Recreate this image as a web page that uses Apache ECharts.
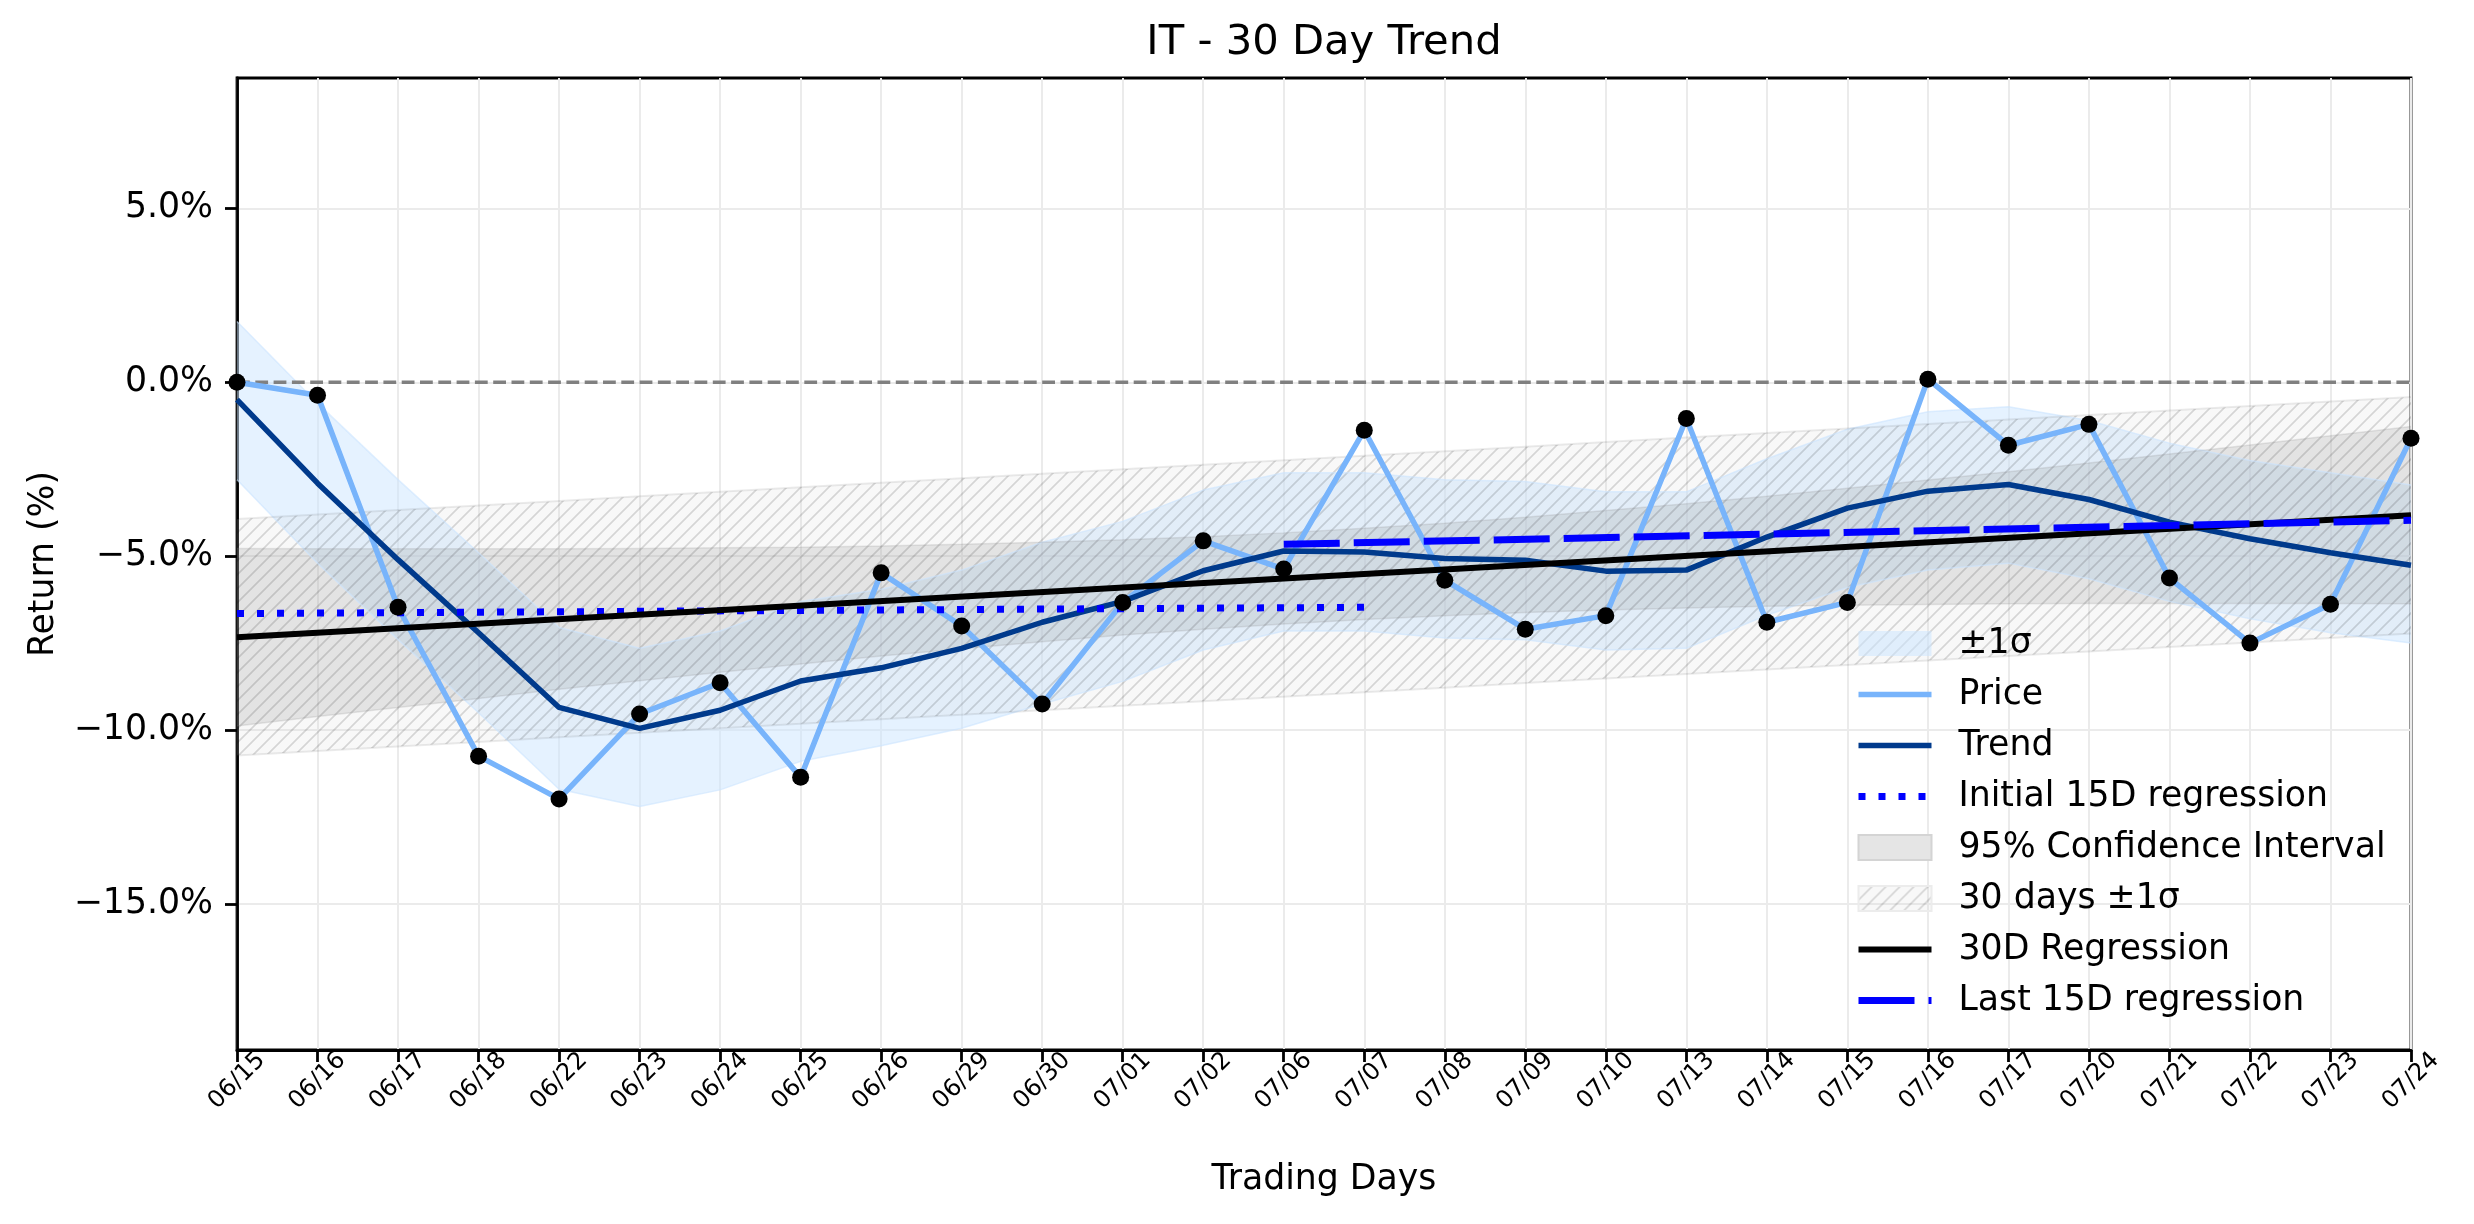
<!DOCTYPE html>
<html>
<head>
<meta charset="utf-8">
<title>IT - 30 Day Trend</title>
<script src="https://cdn.jsdelivr.net/npm/echarts@6/dist/echarts.min.js"></script>
<style>
html, body { margin: 0; padding: 0; background: #fff; }
#chart { width: 2474px; height: 1224px; }
</style>
</head>
<body>
<div id="chart"></div>
<script>
// trading days on the x axis
const days = ['06/15','06/16','06/17','06/18','06/22','06/23','06/24','06/25','06/26','06/29','06/30',
  '07/01','07/02','07/06','07/07','07/08','07/09','07/10','07/13','07/14','07/15','07/16','07/17',
  '07/20','07/21','07/22','07/23','07/24']

// return (%)
const price = [0.00, -0.37, -6.47, -10.75, -11.98, -9.54, -8.64, -11.36, -5.48, -7.01, -9.25, -6.33, -4.56, -5.37,
  -1.38, -5.69, -7.10, -6.71, -1.04, -6.90, -6.33, 0.09, -1.81, -1.21, -5.63, -7.50, -6.38, -1.61]
const trend = [-0.50, -2.90, -5.10, -7.20, -9.35, -9.95, -9.43, -8.59, -8.21, -7.65, -6.90, -6.30, -5.42, -4.85,
  -4.88, -5.07, -5.12, -5.43, -5.40, -4.45, -3.62, -3.13, -2.94, -3.37, -4.02, -4.50, -4.90, -5.26]

// ±1σ band round the trend
const sigmaUpper = [1.75, -0.60, -2.80, -4.90, -7.05, -7.65, -7.15, -6.30, -5.95, -5.40, -4.60, -4.00, -3.10, -2.60,
  -2.60, -2.80, -2.85, -3.15, -3.15, -2.20, -1.35, -0.85, -0.70, -1.10, -1.75, -2.25, -2.60, -2.95]
const sigmaLower = [-2.80, -5.20, -7.40, -9.50, -11.70, -12.20, -11.72, -10.90, -10.45, -9.95, -9.25, -8.60, -7.70, -7.15,
  -7.15, -7.35, -7.40, -7.70, -7.65, -6.70, -5.90, -5.40, -5.20, -5.65, -6.30, -6.80, -7.20, -7.50]

// 95% confidence interval of the 30D regression
const ciUpper = [-4.78, -4.79, -4.79, -4.79, -4.79, -4.78, -4.76, -4.74, -4.71, -4.66, -4.60, -4.53, -4.44, -4.33,
  -4.20, -4.05, -3.88, -3.69, -3.49, -3.28, -3.05, -2.81, -2.57, -2.32, -2.06, -1.80, -1.54, -1.27]
const ciLower = [-9.88, -9.61, -9.35, -9.09, -8.83, -8.58, -8.34, -8.10, -7.87, -7.66, -7.46, -7.27, -7.10, -6.95,
  -6.82, -6.71, -6.62, -6.55, -6.49, -6.44, -6.41, -6.39, -6.37, -6.36, -6.36, -6.36, -6.36, -6.37]

// 30 days ±1σ (hatched)
const band30Upper = [-3.93, -3.80, -3.67, -3.54, -3.41, -3.28, -3.15, -3.02, -2.89, -2.76, -2.63, -2.50, -2.37, -2.24,
  -2.11, -1.98, -1.85, -1.72, -1.59, -1.46, -1.33, -1.20, -1.07, -0.94, -0.81, -0.68, -0.55, -0.42]
const band30Lower = [-10.73, -10.60, -10.47, -10.34, -10.21, -10.08, -9.95, -9.82, -9.69, -9.56, -9.43, -9.30, -9.17, -9.04,
  -8.91, -8.78, -8.65, -8.52, -8.39, -8.26, -8.13, -8.00, -7.87, -7.74, -7.61, -7.48, -7.35, -7.22]

// regression lines: [first day index, last day index, start value, end value]
const reg30 = [0, 27, -7.33, -3.82]
const initial15 = [0, 14, -6.65, -6.47]
const last15 = [13, 27, -4.66, -3.97]
const zeroLine = [0, 27, 0, 0]

const yTicks = [-15, -10, -5, 0, 5]

// '///' hatch, like matplotlib
function makeHatch() {
  const c = document.createElement('canvas')
  c.width = 14
  c.height = 14
  const g = c.getContext('2d')
  g.fillStyle = 'rgba(211,211,211,0.16)'
  g.fillRect(0, 0, 14, 14)
  g.strokeStyle = 'rgba(0,0,0,0.14)'
  g.lineWidth = 1.7
  g.beginPath()
  for (const k of [0, 14, 28]) {
    g.moveTo(k + 2, -2)
    g.lineTo(k - 16, 16)
  }
  g.stroke()
  return c
}
const hatch = { image: makeHatch(), repeat: 'repeat' }

function band(name, lower, upper, fill, edge, edgeWidth) {
  return [
    {
      name: name + ' low', type: 'line', stack: name, stackStrategy: 'all', data: lower,
      symbol: 'none', silent: true, lineStyle: { color: edge, width: edgeWidth }
    },
    {
      name: name, type: 'line', stack: name, stackStrategy: 'all',
      data: upper.map((v, i) => +(v - lower[i]).toFixed(3)),
      symbol: 'none', silent: true, lineStyle: { color: edge, width: edgeWidth },
      areaStyle: { color: fill, opacity: 1 }
    }
  ]
}

function segment(r) {
  return [[days[r[0]], r[2]], [days[r[1]], r[3]]]
}

const font = 'DejaVu Sans'
const axisLineStyle = { color: '#000', width: 2.8 }
const gridLineStyle = { color: '#ebebeb', width: 2 }

const priceStyle = { color: '#78b4fb', width: 5.5 }
const trendStyle = { color: '#003a8c', width: 5.5 }
const initialStyle = { color: '#0000ff', width: 7, type: [7, 13] }
const reg30Style = { color: '#000', width: 6 }
const last15Style = { color: '#0000ff', width: 7, type: [56, 14] }

const option = {
  animation: false,
  textStyle: { fontFamily: font },
  title: {
    text: 'IT - 30 Day Trend',
    left: 1324, top: 22, textAlign: 'center', padding: 0,
    textStyle: { fontSize: 41.7, fontWeight: 'normal', color: '#000', fontFamily: font }
  },
  grid: {
    left: 237, right: 63, top: 78, bottom: 174,
    show: true, borderColor: '#000', borderWidth: 2.8,
    containLabel: false, outerBoundsMode: 'none'
  },
  legend: {
    orient: 'vertical', left: 1855, top: 626, padding: 0,
    itemGap: 16, itemWidth: 73, itemHeight: 25,
    selectedMode: false,
    textStyle: { fontSize: 34.7, color: '#000', fontFamily: font, padding: [0, 0, 0, 22] },
    data: [
      { name: '±1σ', icon: 'rect', itemStyle: { color: 'rgba(204,229,255,0.55)', borderWidth: 0 } },
      { name: 'Price', itemStyle: { opacity: 0 }, lineStyle: priceStyle },
      { name: 'Trend', itemStyle: { opacity: 0 }, lineStyle: trendStyle },
      { name: 'Initial 15D regression', itemStyle: { opacity: 0 }, lineStyle: initialStyle },
      { name: '95% Confidence Interval', icon: 'rect', itemStyle: { color: '#e5e5e5', borderColor: '#d4d4d4', borderWidth: 2 } },
      { name: '30 days ±1σ', icon: 'rect', itemStyle: { color: hatch, borderColor: '#ececec', borderWidth: 2 } },
      { name: '30D Regression', itemStyle: { opacity: 0 }, lineStyle: reg30Style },
      { name: 'Last 15D regression', itemStyle: { opacity: 0 }, lineStyle: last15Style }
    ]
  },
  xAxis: {
    type: 'category', data: days, boundaryGap: false,
    axisLine: { onZero: false, lineStyle: axisLineStyle },
    axisTick: { length: 12, interval: 0, lineStyle: axisLineStyle },
    axisLabel: { rotate: 45, interval: 0, fontSize: 24, color: '#000', margin: 31, align: 'center', verticalAlign: 'middle' },
    splitLine: { show: true, interval: 0, lineStyle: gridLineStyle },
    name: 'Trading Days', nameLocation: 'middle', nameGap: 112,
    nameTextStyle: { fontSize: 34.7, color: '#000' }
  },
  yAxis: {
    type: 'value', min: -19.2, max: 8.75,
    axisLine: { show: true, onZero: false, lineStyle: axisLineStyle },
    axisTick: { show: true, length: 12, lineStyle: axisLineStyle, customValues: yTicks },
    axisLabel: {
      customValues: yTicks, fontSize: 34.7, color: '#000', margin: 24,
      formatter: v => (v < 0 ? '\u2212' : '') + Math.abs(v).toFixed(1) + '%'
    },
    splitLine: { show: true, lineStyle: gridLineStyle },
    name: 'Return (%)', nameLocation: 'middle', nameGap: 176,
    nameTextStyle: { fontSize: 34.7, color: '#000' }
  },
  series: [
    ...band('±1σ', sigmaLower, sigmaUpper, 'rgba(204,229,255,0.5)', 'rgba(204,229,255,0.6)', 1.5),
    {
      name: 'zero', type: 'line', data: segment(zeroLine), symbol: 'none', silent: true,
      lineStyle: { color: '#808080', width: 3.4, type: [12.8, 5.5] }
    },
    ...band('95% Confidence Interval', ciLower, ciUpper, 'rgba(128,128,128,0.2)', 'rgba(128,128,128,0.18)', 1.5),
    ...band('30 days ±1σ', band30Lower, band30Upper, hatch, 'rgba(0,0,0,0.08)', 2),
    { name: 'Price', type: 'line', data: price, symbol: 'none', lineStyle: priceStyle },
    { name: 'Trend', type: 'line', data: trend, symbol: 'none', lineStyle: trendStyle },
    { name: 'Initial 15D regression', type: 'line', data: segment(initial15), symbol: 'none', lineStyle: initialStyle },
    { name: '30D Regression', type: 'line', data: segment(reg30), symbol: 'none', lineStyle: reg30Style },
    { name: 'Last 15D regression', type: 'line', data: segment(last15), symbol: 'none', lineStyle: last15Style },
    {
      name: 'points', type: 'scatter', data: price, symbolSize: 17, z: 5,
      itemStyle: { color: '#000', opacity: 1 }
    }
  ]
}

const chart = echarts.init(document.getElementById('chart'))
chart.setOption(option)
</script>
</body>
</html>
